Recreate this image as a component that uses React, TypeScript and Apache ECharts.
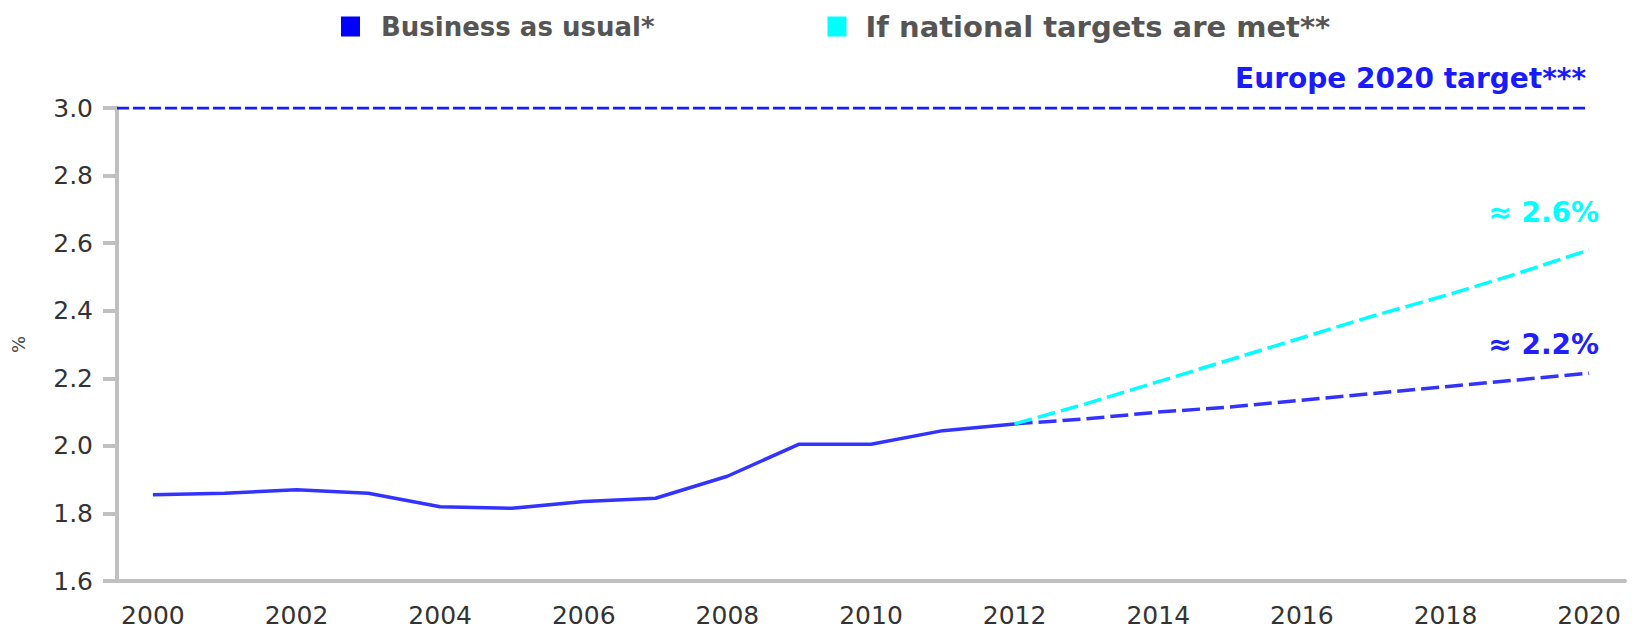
import React, { useEffect, useRef } from "react";
import * as echarts from "echarts";

const years = [2000, 2001, 2002, 2003, 2004, 2005, 2006, 2007, 2008, 2009, 2010, 2011, 2012, 2013, 2014, 2015, 2016, 2017, 2018, 2019, 2020];
const historyYears = years.slice(0, 13);
const projectionYears = years.slice(12);
const bauHistory = [1.855, 1.86, 1.87, 1.86, 1.82, 1.815, 1.835, 1.845, 1.91, 2.005, 2.005, 2.045, 2.065];
const bauProjection = [2.065, 2.08, 2.1, 2.115, 2.135, 2.155, 2.175, 2.195, 2.215];
const targetProjection = [2.065, 2.125, 2.19, 2.255, 2.32, 2.385, 2.445, 2.51, 2.58];
const euTargetYears = [1999.5, 2020];
const euTargetValue = 3.0;
const xTickLabels = [2000, 2002, 2004, 2006, 2008, 2010, 2012, 2014, 2016, 2018, 2020];
const yTicks = [1.6, 1.8, 2.0, 2.2, 2.4, 2.6, 2.8, 3.0];

const BAU = "Business as usual*";
const NAT = "If national targets are met**";
const FONT = "'DejaVu Sans', Verdana, sans-serif";

export default function App() {
  const ref = useRef<HTMLDivElement>(null);
  useEffect(() => {
    document.body.style.margin = "0";
    const chart = echarts.init(ref.current!, null, { renderer: "svg" });
    const lastYear = years[years.length - 1];
    chart.setOption({
      animation: false,
      backgroundColor: "#ffffff",
      grid: { left: 117, right: 11, top: 108, bottom: 48, outerBoundsMode: "none" },
      legend: {
        top: 12,
        left: 341,
        padding: 0,
        itemWidth: 19,
        itemHeight: 20,
        itemGap: 173,
        icon: "rect",
        selectedMode: false,
        data: [
          { name: BAU, itemStyle: { color: "#0000ff", borderWidth: 0 } },
          { name: NAT, itemStyle: { color: "#00ffff", borderWidth: 0 } },
        ],
        formatter: (name: string) => (name === NAT ? `{n|${name}}` : `{b|${name}}`),
        textStyle: {
          fontFamily: FONT,
          fontSize: 26,
          fontWeight: "bold",
          color: "#555555",
          rich: {
            b: { fontFamily: FONT, fontSize: 26, fontWeight: "bold", color: "#555555", padding: [0, 0, 0, 16] },
            n: { fontFamily: FONT, fontSize: 29, fontWeight: "bold", color: "#555555", padding: [0, 0, 0, 14] },
          },
        },
      },
      xAxis: {
        type: "value",
        min: 1999.5,
        max: 2020.5,
        splitLine: { show: false },
        axisTick: { show: false },
        axisLine: { show: true, lineStyle: { color: "#c0c0c0", width: 4 } },
        axisLabel: {
          customValues: xTickLabels,
          fontFamily: FONT,
          fontSize: 25,
          color: "#333333",
          margin: 22,
          formatter: (v: number) => String(v),
        },
      },
      yAxis: {
        type: "value",
        min: yTicks[0],
        max: yTicks[yTicks.length - 1],
        interval: 0.2,
        name: "%",
        nameLocation: "middle",
        nameGap: 90,
        nameRotate: 90,
        nameTextStyle: { fontFamily: FONT, fontSize: 18, color: "#444444" },
        splitLine: { show: false },
        axisLine: { show: true, lineStyle: { color: "#c0c0c0", width: 4 } },
        axisTick: { show: true, length: 14, lineStyle: { color: "#c0c0c0", width: 4 } },
        axisLabel: {
          fontFamily: FONT,
          fontSize: 25,
          color: "#333333",
          margin: 24,
          formatter: (v: number) => v.toFixed(1),
        },
      },
      series: [
        {
          name: "Europe 2020 target***",
          type: "line",
          showSymbol: false,
          data: euTargetYears.map((y) => [y, euTargetValue]),
          lineStyle: { color: "#1a1aff", width: 3, type: [12, 4] },
          itemStyle: { color: "#1a1aff" },
          markPoint: {
            symbol: "circle",
            symbolSize: 1,
            itemStyle: { color: "rgba(0,0,0,0)" },
            data: [
              {
                coord: [lastYear, euTargetValue],
                label: {
                  show: true,
                  position: "inside",
                  align: "right",
                  offset: [-3, -30],
                  formatter: "Europe 2020 target***",
                  fontFamily: FONT,
                  fontSize: 28,
                  fontWeight: "bold",
                  color: "#1a1aff",
                },
              },
            ],
          },
        },
        {
          name: BAU,
          type: "line",
          showSymbol: false,
          data: historyYears.map((y, i) => [y, bauHistory[i]]),
          lineStyle: { color: "#3333ff", width: 3.5 },
          itemStyle: { color: "#0000ff" },
        },
        {
          name: BAU,
          type: "line",
          showSymbol: false,
          data: projectionYears.map((y, i) => [y, bauProjection[i]]),
          lineStyle: { color: "#3333ff", width: 3.5, type: [18, 6] },
          itemStyle: { color: "#0000ff" },
          markPoint: {
            symbol: "circle",
            symbolSize: 1,
            itemStyle: { color: "rgba(0,0,0,0)" },
            data: [
              {
                coord: [lastYear, bauProjection[bauProjection.length - 1]],
                label: {
                  show: true,
                  position: "inside",
                  align: "right",
                  offset: [10, -29],
                  formatter: "≈ 2.2%",
                  fontFamily: FONT,
                  fontSize: 28,
                  fontWeight: "bold",
                  color: "#2020ff",
                },
              },
            ],
          },
        },
        {
          name: NAT,
          type: "line",
          showSymbol: false,
          data: projectionYears.map((y, i) => [y, targetProjection[i]]),
          lineStyle: { color: "#00ffff", width: 3.5, type: [18, 6] },
          itemStyle: { color: "#00ffff" },
          markPoint: {
            symbol: "circle",
            symbolSize: 1,
            itemStyle: { color: "rgba(0,0,0,0)" },
            data: [
              {
                coord: [lastYear, targetProjection[targetProjection.length - 1]],
                label: {
                  show: true,
                  position: "inside",
                  align: "right",
                  offset: [10, -37],
                  formatter: "≈ 2.6%",
                  fontFamily: FONT,
                  fontSize: 28,
                  fontWeight: "bold",
                  color: "#00ffff",
                },
              },
            ],
          },
        },
      ],
    });
    return () => chart.dispose();
  }, []);
  return <div ref={ref} style={{ width: 1636, height: 629 }} />;
}
